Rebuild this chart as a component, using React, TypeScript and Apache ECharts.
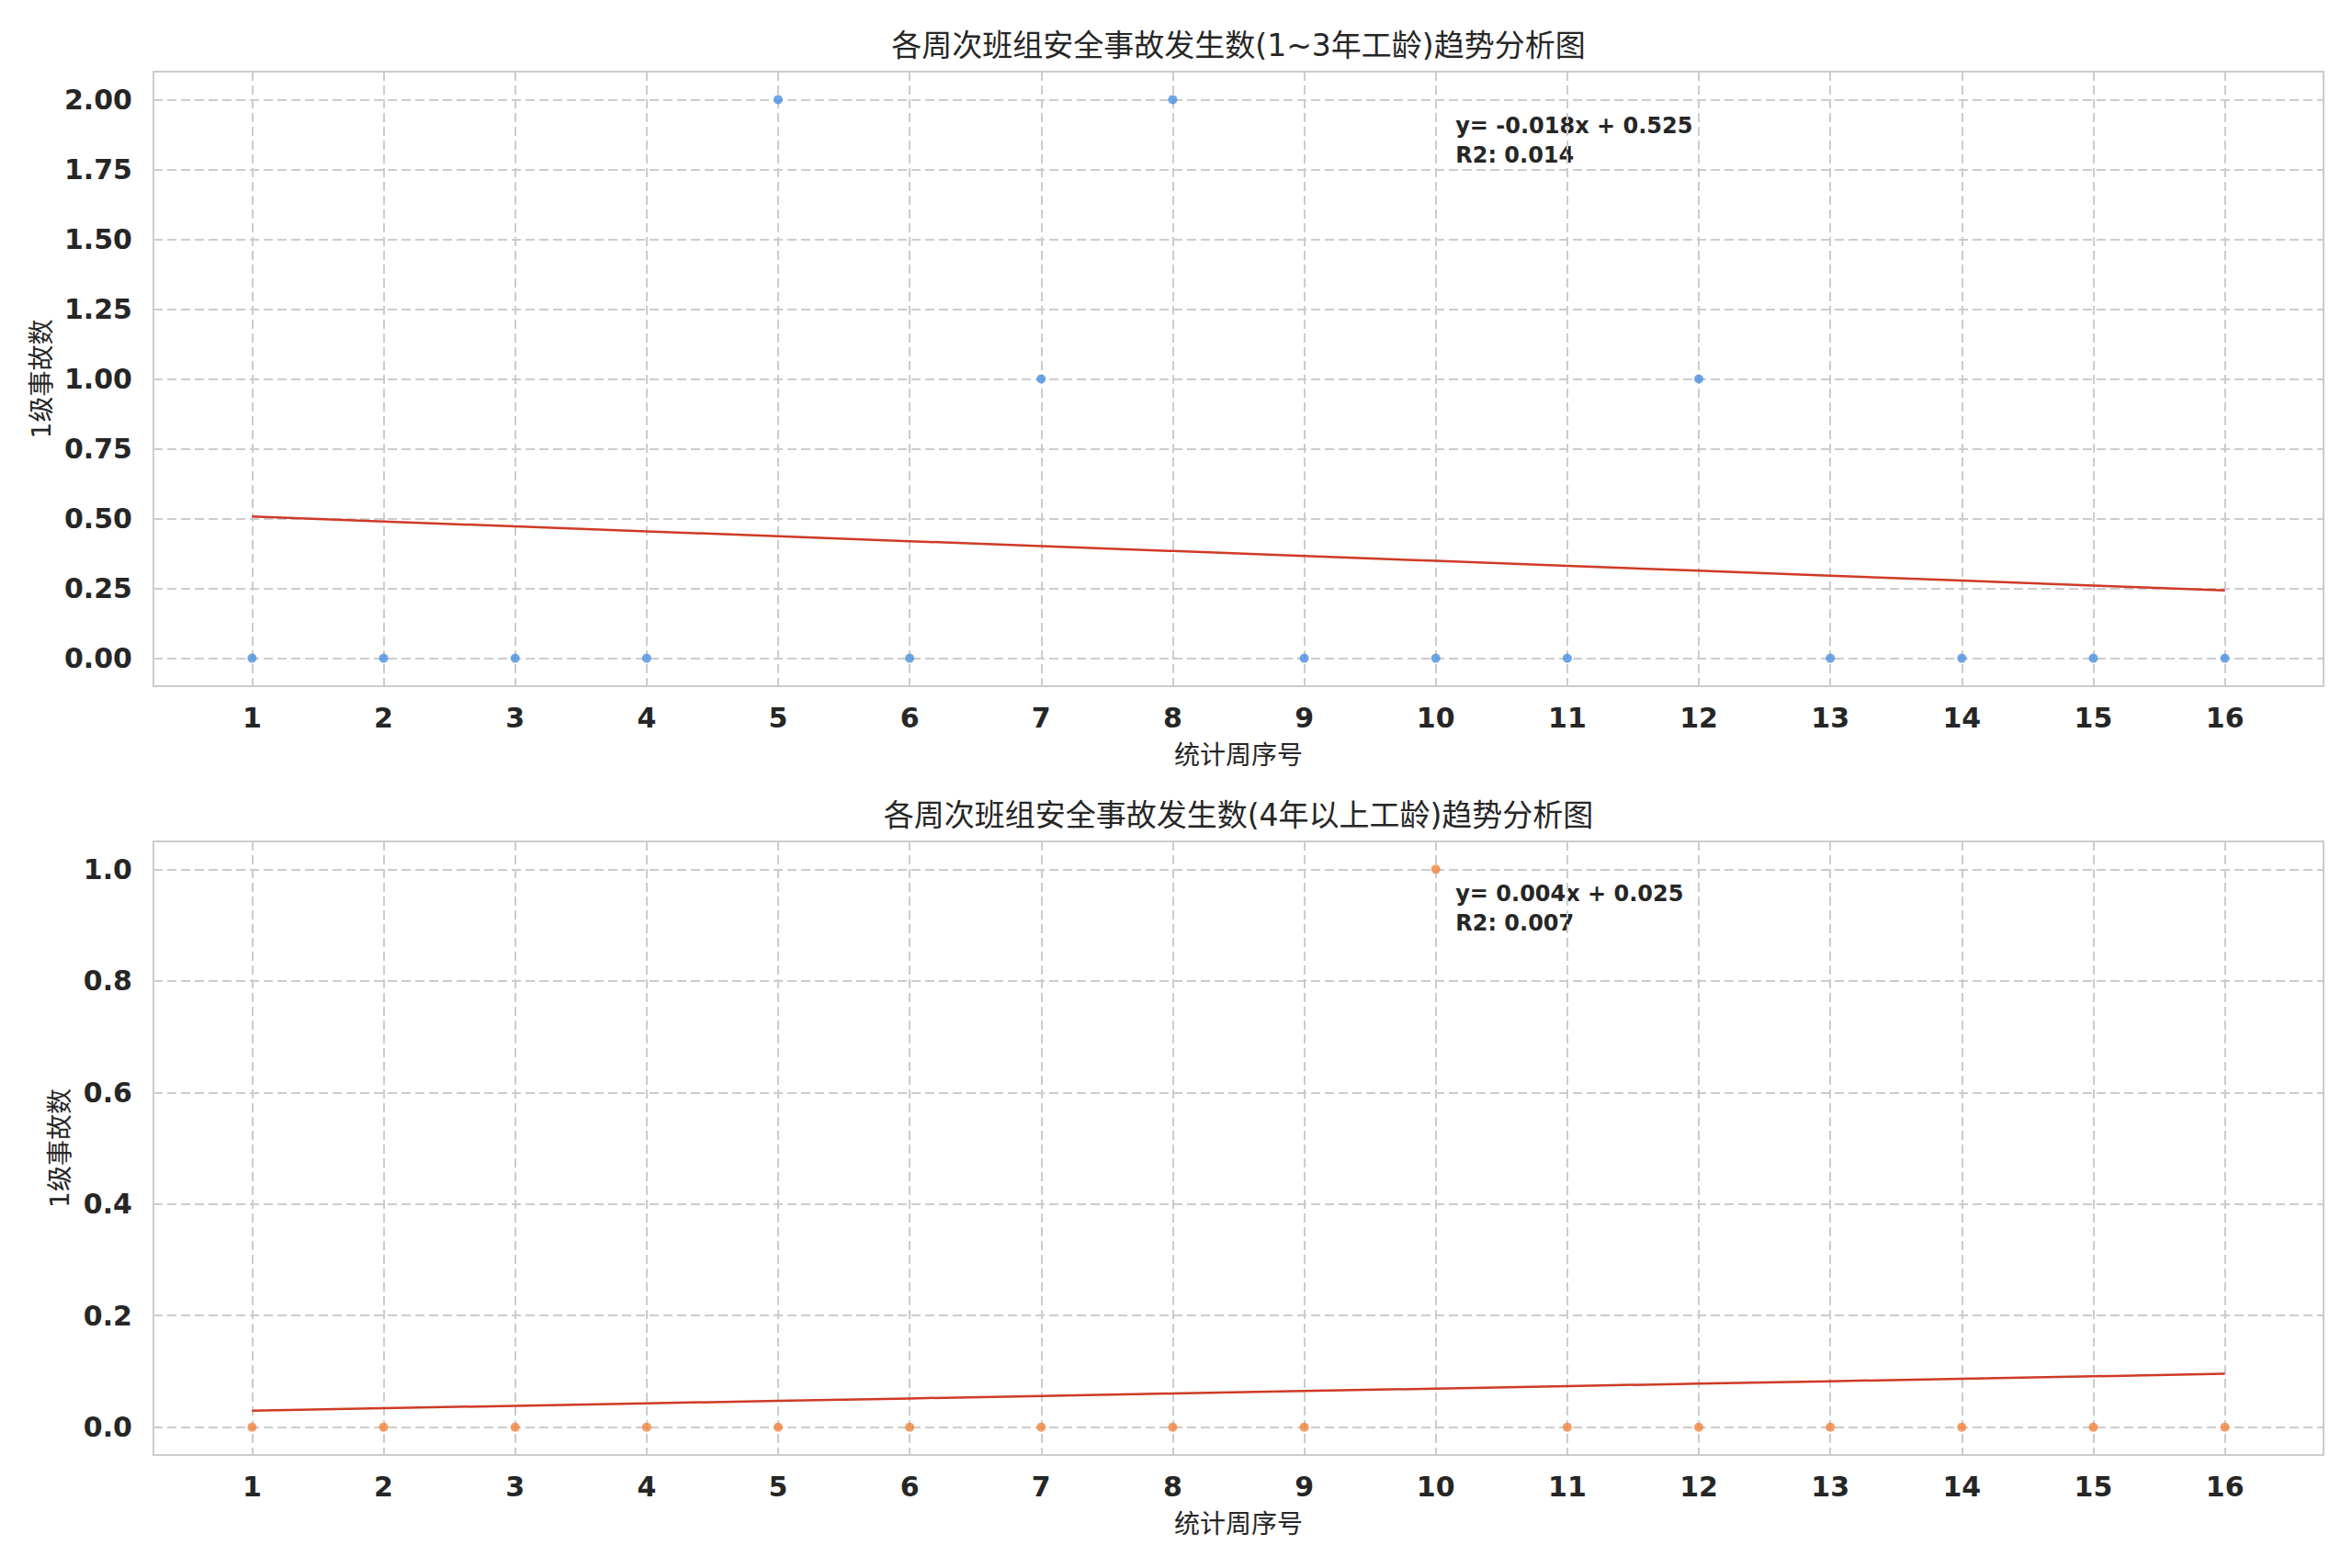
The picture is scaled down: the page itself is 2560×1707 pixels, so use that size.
import React, { useEffect, useRef } from "react";
import * as echarts from "echarts";

const weeks = [1, 2, 3, 4, 5, 6, 7, 8, 9, 10, 11, 12, 13, 14, 15, 16];
const groupA = [0, 0, 0, 0, 2, 0, 1, 2, 0, 0, 0, 1, 0, 0, 0, 0];
const groupB = [0, 0, 0, 0, 0, 0, 0, 0, 0, 1, 0, 0, 0, 0, 0, 0];
const yTicksA = [0, 0.25, 0.5, 0.75, 1.0, 1.25, 1.5, 1.75, 2.0];
const yTicksB = [0, 0.2, 0.4, 0.6, 0.8, 1.0];
const titles = [
  "各周次班组安全事故发生数(1~3年工龄)趋势分析图",
  "各周次班组安全事故发生数(4年以上工龄)趋势分析图",
];
const xLabel = "统计周序号";
const yLabel = "1级事故数";

const FONT = "'DejaVu Sans', 'Noto Sans CJK SC', sans-serif";
const TEXT = "#262626";
const GRIDC = "#cccccc";

function fit(xs: number[], ys: number[]) {
  const n = xs.length;
  const mx = xs.reduce((a, b) => a + b, 0) / n;
  const my = ys.reduce((a, b) => a + b, 0) / n;
  let sxy = 0, sxx = 0, syy = 0;
  for (let i = 0; i < n; i++) {
    sxy += (xs[i] - mx) * (ys[i] - my);
    sxx += (xs[i] - mx) ** 2;
    syy += (ys[i] - my) ** 2;
  }
  const slope = sxy / sxx;
  const intercept = my - slope * mx;
  const r2 = syy === 0 ? 0 : (sxy * sxy) / (sxx * syy);
  return { slope, intercept, r2 };
}

export default function App() {
  const ref = useRef<HTMLDivElement>(null);
  useEffect(() => {
    if (!ref.current) return;
    const chart = echarts.init(ref.current, undefined, { renderer: "svg" });
    const grids = [
      { left: 167, top: 78, width: 2362, height: 669 },
      { left: 167, top: 916, width: 2362, height: 668 },
    ];
    const datasets = [groupA, groupB];
    const colors = ["#4a90e2", "#f0843f"];
    const yTicks = [yTicksA, yTicksB];
    const yRanges = [
      [-0.1, 2.1],
      [-0.05, 1.05],
    ];
    const yDigits = [2, 1];
    const yNameGaps = [106, 86];
    const annoTop = [43, 41];

    const fits = datasets.map((d) => fit(weeks, d));

    const xAxes = grids.map((_, i) => ({
      type: "value",
      gridIndex: i,
      min: 0.25,
      max: 16.75,
      axisLine: { show: false },
      axisTick: { show: false, customValues: weeks },
      axisLabel: {
        customValues: weeks,
        fontSize: 30,
        fontWeight: "bold",
        color: TEXT,
        margin: 19,
        fontFamily: FONT,
      },
      splitLine: { show: true, lineStyle: { color: GRIDC, type: [10, 5], width: 2 } },
      name: xLabel,
      nameLocation: "middle",
      nameGap: 61,
      nameTextStyle: { fontSize: 28, color: TEXT, fontFamily: FONT },
    }));

    const yAxes = grids.map((_, i) => ({
      type: "value",
      gridIndex: i,
      min: yRanges[i][0],
      max: yRanges[i][1],
      axisLine: { show: false },
      axisTick: { show: false, customValues: yTicks[i] },
      axisLabel: {
        customValues: yTicks[i],
        formatter: (v: number) => v.toFixed(yDigits[i]),
        fontSize: 30,
        fontWeight: "bold",
        color: TEXT,
        margin: 23,
        fontFamily: FONT,
      },
      splitLine: { show: true, lineStyle: { color: GRIDC, type: [10, 5], width: 2 } },
      name: yLabel,
      nameLocation: "middle",
      nameGap: yNameGaps[i],
      nameRotate: 90,
      nameTextStyle: { fontSize: 28, color: TEXT, fontFamily: FONT },
    }));

    const series: any[] = [];
    datasets.forEach((d, i) => {
      series.push({
        type: "scatter",
        xAxisIndex: i,
        yAxisIndex: i,
        symbolSize: 10,
        itemStyle: { color: colors[i] },
        data: weeks.map((w, k) => [w, d[k]]),
        z: 3,
      });
      const f = fits[i];
      series.push({
        type: "line",
        xAxisIndex: i,
        yAxisIndex: i,
        showSymbol: false,
        symbol: "none",
        lineStyle: { color: "#cf3a26", width: 2.5 },
        data: weeks.map((w) => [w, f.slope * w + f.intercept]),
        z: 4,
      });
    });

    const graphic: any[] = [];
    grids.forEach((g, i) => {
      graphic.push({
        type: "text",
        x: g.left + g.width / 2,
        y: g.top - 29,
        style: {
          text: titles[i],
          font: `33px ${FONT}`,
          fill: TEXT,
          textAlign: "center",
          textVerticalAlign: "middle",
        },
      });
      const f = fits[i];
      const sign = f.intercept >= 0 ? "+" : "-";
      graphic.push({
        type: "text",
        x: g.left + g.width * 0.6,
        y: g.top + annoTop[i],
        style: {
          text: `y= ${f.slope.toFixed(3)}x ${sign} ${Math.abs(f.intercept).toFixed(3)}\nR2: ${f.r2.toFixed(3)}`,
          font: `bold 24px ${FONT}`,
          lineHeight: 32,
          fill: TEXT,
          textAlign: "left",
          textVerticalAlign: "top",
        },
      });
    });

    chart.setOption({
      animation: false,
      backgroundColor: "#ffffff",
      grid: grids.map((g) => ({
        ...g,
        show: true,
        borderColor: GRIDC,
        borderWidth: 2,
        backgroundColor: "transparent",
      })),
      xAxis: xAxes,
      yAxis: yAxes,
      series,
      graphic,
    });
    return () => chart.dispose();
  }, []);
  return (
    <div
      ref={ref}
      style={{ position: "fixed", left: 0, top: 0, width: 2560, height: 1707, background: "#fff" }}
    />
  );
}
